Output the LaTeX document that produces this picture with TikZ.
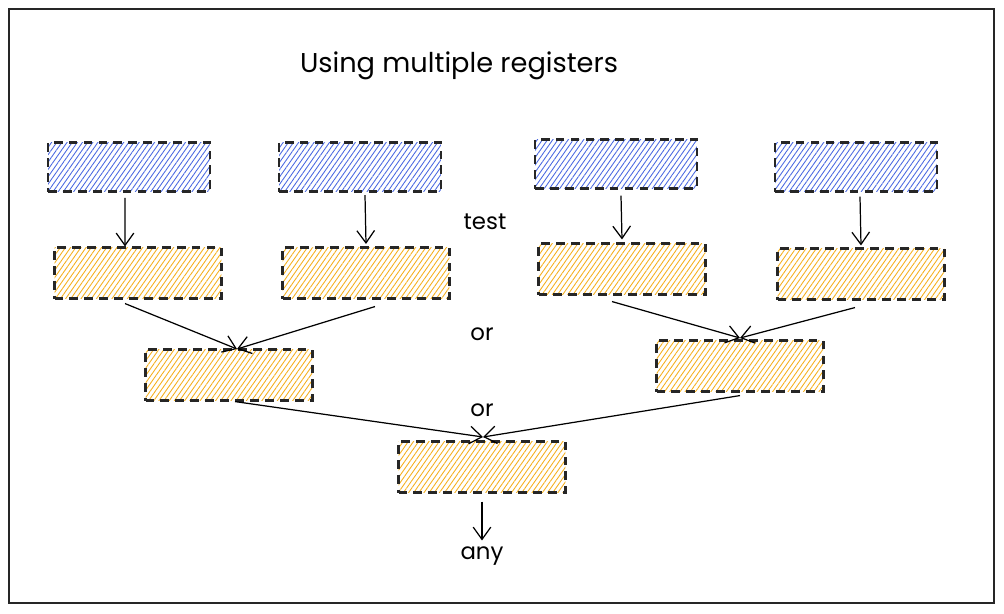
\documentclass[tikz,border=0pt]{standalone}
\usepackage{fontspec}
\setmainfont{Poppins}
\usetikzlibrary{patterns.meta,arrows.meta}
\definecolor{hatchblue}{RGB}{75,105,225}
\definecolor{hatchorange}{RGB}{245,175,30}

\begin{document}
\begin{tikzpicture}[x=0.02cm,y=-0.02cm,
		regbox/.style={draw=black!85,line width=1.2pt,dash pattern=on 5pt off 3.5pt,
			minimum width=3.34cm,minimum height=1.02cm,inner sep=0pt},
		srcbox/.style={regbox,pattern={Lines[angle=55,distance=2.4pt,line width=0.5pt]},pattern color=hatchblue,
			minimum height=0.98cm,minimum width=3.24cm},
		regsbox/.style={regbox,pattern={Lines[angle=55,distance=2.4pt,line width=0.5pt]},pattern color=hatchorange},
		link/.style={draw=black,line width=0.7pt,-{Straight Barb[length=7pt,width=10pt]}},
		note/.style={font=\fontsize{13}{15}\selectfont}]
		\useasboundingbox (0,0) rectangle (1004,613);
		\draw[line width=1pt,black!85] (9,9) rectangle (994,603);
		\node[font=\fontsize{15.5}{18}\selectfont] (title) at (459,66) {Using multiple registers};
		% source registers
		\node[srcbox] (b1) at (129,167) {};
		\node[srcbox] (b2) at (360,167) {};
		\node[srcbox] (b3) at (616,164) {};
		\node[srcbox] (b4) at (856,167) {};
		% first stage
		\node[regsbox] (o1) at (138,273) {};
		\node[regsbox] (o2) at (366,273) {};
		\node[regsbox] (o3) at (622,269) {};
		\node[regsbox] (o4) at (861,274) {};
		% second stage
		\node[regsbox] (o5) at (229,375) {};
		\node[regsbox] (o6) at (740,366) {};
		% last stage
		\node[regsbox] (o7) at (482,467) {};
		\node[note] (test) at (485,222) {test};
		\node[note] (or1) at (482,334) {or};
		\node[note] (or2) at (482,410) {or};
		\node[note] (any) at (482,556) {any};
		\coordinate (m5) at (237,349);
		\coordinate (m6) at (740,338);
		\coordinate (m7) at (483,437);
		\draw[link] ([xshift=-0.08cm,yshift=-0.12cm]b1.south) -- ([xshift=-0.26cm]o1.north);
		\draw[link] ([xshift=0.1cm,yshift=-0.05cm]b2.south) -- ([yshift=0.05cm]o2.north);
		\draw[link] ([xshift=0.1cm,yshift=-0.12cm]b3.south) -- ([yshift=0.06cm]o3.north);
		\draw[link] ([xshift=0.08cm,yshift=-0.08cm]b4.south) -- ([yshift=0.04cm]o4.north);
		\draw[link] ([xshift=-0.26cm,yshift=-0.08cm]o1.south) -- (m5);
		\draw[link] ([xshift=0.18cm,yshift=-0.14cm]o2.south) -- (m5);
		\draw[link] ([xshift=-0.2cm,yshift=-0.12cm]o3.south) -- (m6);
		\draw[link] ([xshift=-0.12cm,yshift=-0.14cm]o4.south) -- (m6);
		\draw[link] ([xshift=0.12cm]o5.south) -- (m7);
		\draw[link] ([yshift=-0.06cm]o6.south) -- (m7);
		\draw[link] ([yshift=-0.16cm]o7.south) -- (any);
	\end{tikzpicture}
\end{document}
